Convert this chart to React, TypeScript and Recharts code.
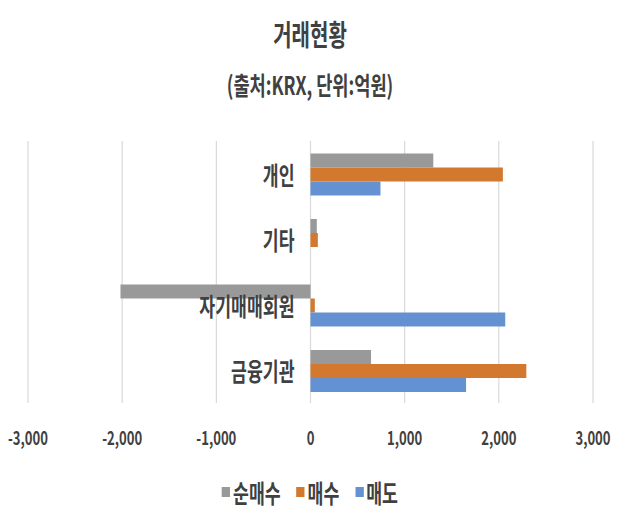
import { Bar, BarChart, CartesianGrid, Legend, XAxis, YAxis } from "recharts";

const CATEGORIES = ["개인", "기타", "자기매매회원", "금융기관"];
const NET_BUY = [1304, 67, -2018, 643];
const BUY = [2043, 78, 46, 2292];
const SELL = [743, 0, 2068, 1652];
const X_TICKS = [-3000, -2000, -1000, 0, 1000, 2000, 3000];
const SERIES_NAMES = ["순매수", "매수", "매도"];
const SERIES_COLORS = ["#999999", "#D2782F", "#6491D1"];

const W = 639;
const H = 523;
const MARGIN = { top: 141, right: 46, bottom: 11, left: 27 };
const Y_AXIS_W = 1;
const ZERO_X = MARGIN.left + Y_AXIS_W + (W - MARGIN.left - Y_AXIS_W - MARGIN.right) / 2;
const FONT = '"Noto Sans CJK KR", "Noto Sans", sans-serif';
const TEXT = "#404040";
const SX = 0.69; // the picture is squeezed sideways

const rows = CATEGORIES.map((name, i) => ({
  name,
  net: NET_BUY[i],
  buy: BUY[i],
  sell: SELL[i],
}));

function XTick({ x, y, payload }: any) {
  return (
    <text
      transform={`translate(${x},${y + 32}) scale(${SX},1)`}
      textAnchor="middle"
      dominantBaseline="central"
      fontFamily={FONT}
      fontSize={19}
      fontWeight={700}
      fill={TEXT}
    >
      {Number(payload.value).toLocaleString("en-US")}
    </text>
  );
}

function YTick({ y, payload }: any) {
  return (
    <text
      transform={`translate(${ZERO_X - 16},${y}) scale(${SX},1)`}
      textAnchor="end"
      dominantBaseline="central"
      fontFamily={FONT}
      fontSize={25}
      fontWeight={700}
      fill={TEXT}
    >
      {payload.value}
    </text>
  );
}

function LegendContent({ payload }: any) {
  const items = [...(payload || [])].sort(
    (a: any, b: any) => SERIES_NAMES.indexOf(a.value) - SERIES_NAMES.indexOf(b.value),
  );
  return (
    <div
      style={{
        display: "flex",
        justifyContent: "center",
        transform: `scaleX(${SX})`,
        fontFamily: FONT,
        fontSize: 25,
        fontWeight: 700,
        color: TEXT,
        lineHeight: "40px",
      }}
    >
      {items.map((p: any, i: number) => (
        <span key={p.value} style={{ display: "flex", alignItems: "center", marginLeft: i ? 23 : 0 }}>
          <span style={{ width: 12, height: 10, background: p.color, marginRight: 4 }} />
          {p.value}
        </span>
      ))}
    </div>
  );
}

const titleStyle = {
  position: "absolute" as const,
  left: 0,
  width: 620,
  textAlign: "center" as const,
  fontFamily: FONT,
  fontWeight: 700,
  color: TEXT,
  transform: `scaleX(${SX})`,
};

export default function App() {
  return (
    <div style={{ position: "absolute", top: 0, left: 0, width: W, height: H, background: "#fff" }}>
      <div style={{ ...titleStyle, top: 16, fontSize: 29, lineHeight: "34px" }}>거래현황</div>
      <div style={{ ...titleStyle, top: 69, fontSize: 25.5, lineHeight: "30px" }}>
        (출처:KRX, 단위:억원)
      </div>
      <BarChart
        width={W}
        height={H}
        data={rows}
        layout="vertical"
        margin={MARGIN}
        barCategoryGap={12.5}
        barGap={0}
      >
        <CartesianGrid horizontal={false} stroke="#d9d9d9" strokeWidth={1.2} />
        <XAxis
          type="number"
          domain={[-3000, 3000]}
          ticks={X_TICKS}
          interval={0}
          axisLine={false}
          tickLine={false}
          tickSize={0}
          height={69}
          tick={<XTick />}
        />
        <Bar dataKey="net" name={SERIES_NAMES[0]} fill={SERIES_COLORS[0]} isAnimationActive={false} />
        <Bar dataKey="buy" name={SERIES_NAMES[1]} fill={SERIES_COLORS[1]} isAnimationActive={false} />
        <Bar dataKey="sell" name={SERIES_NAMES[2]} fill={SERIES_COLORS[2]} isAnimationActive={false} />
        <YAxis
          type="category"
          dataKey="name"
          width={Y_AXIS_W}
          interval={0}
          axisLine={false}
          tickLine={false}
          tickSize={0}
          tick={<YTick />}
        />
        <Legend verticalAlign="bottom" height={40} content={<LegendContent />} />
      </BarChart>
    </div>
  );
}
